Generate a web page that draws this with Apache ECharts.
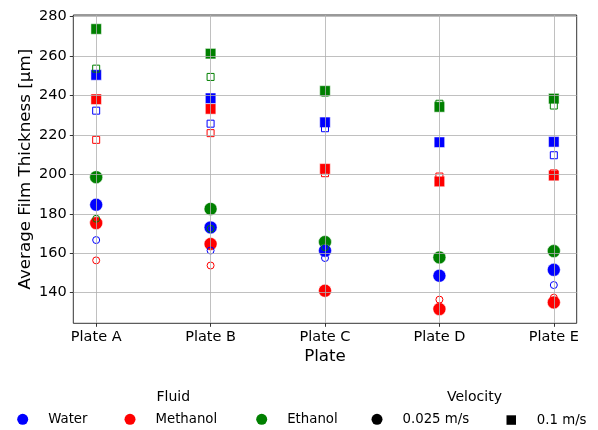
<!DOCTYPE html>
<html><head><meta charset="utf-8">
<script src="https://cdn.jsdelivr.net/npm/echarts@6/dist/echarts.min.js"></script>
<style>html,body{margin:0;padding:0;background:#fff}#c{width:598px;height:430px}</style>
</head><body><div id="c"></div><script>
const categories = ['Plate A', 'Plate B', 'Plate C', 'Plate D', 'Plate E'];
const yTicks = [140, 160, 180, 200, 220, 240, 260, 280];
const xTicks = [0, 1, 2, 3, 4];
const fluids = ['Water', 'Methanol', 'Ethanol'];
const fluidColors = ['#0000ff', '#ff0000', '#008000'];
const velocities = ['0.025 m/s', '0.1 m/s'];

// large filled markers
const waterSlow    = [184.6, 173.1, 161.3, 148.6, 151.6];
const methanolSlow = [175.3, 164.7, 141.0, 131.7, 135.1];
const ethanolSlow  = [198.6, 182.5, 165.7, 157.9, 161.1];
const waterFast    = [250.4, 238.6, 226.4, 216.3, 216.5];
const methanolFast = [238.1, 233.2, 202.8, 196.4, 199.4];
const ethanolFast  = [273.7, 261.2, 242.3, 234.2, 238.4];

// small hollow markers
const waterSlowB    = [166.7, 161.4, 157.6, 148.2, 143.9];
const methanolSlowB = [156.4, 153.8, 141.0, 136.5, 137.5];
const ethanolSlowB  = [177.5, 172.4, 163.0, 158.0, 161.0];
const waterFastB    = [232.3, 225.7, 223.4, 216.0, 209.7];
const methanolFastB = [217.5, 220.9, 200.6, 198.9, 200.5];
const ethanolFastB  = [253.6, 249.4, 241.5, 235.8, 234.9];

const FONT = 'DejaVu Sans';
function pts(vals) { return vals.map((v, i) => [i, v]); }
function filled(name, vals, color, symbol) {
  return { type: 'scatter', name: name, data: pts(vals), symbol: symbol,
    symbolSize: symbol === 'circle' ? 13 : 10.5, z: 2,
    itemStyle: { color: color, borderColor: '#ffffff', borderWidth: 0.5, opacity: 1 },
    emphasis: { disabled: true } };
}
function hollow(name, vals, color, symbol) {
  return { type: 'scatter', name: name, data: pts(vals), symbol: symbol,
    symbolSize: 7, z: 2,
    itemStyle: { color: 'rgba(0,0,0,0)', borderColor: color, borderWidth: 1, opacity: 1 },
    emphasis: { disabled: true } };
}
function legendOnly(name, color, symbol) {
  return { type: 'scatter', name: name, data: [], symbol: symbol,
    itemStyle: { color: color, opacity: 1 } };
}

const series = [
  filled('e1', ethanolFast, fluidColors[2], 'rect'),
  filled('m1', methanolFast, fluidColors[1], 'rect'),
  filled('w1', waterFast, fluidColors[0], 'rect'),
  filled('e0', ethanolSlow, fluidColors[2], 'circle'),
  filled('m0', methanolSlow, fluidColors[1], 'circle'),
  filled('w0', waterSlow, fluidColors[0], 'circle'),
  hollow('w1b', waterFastB, fluidColors[0], 'rect'),
  hollow('m1b', methanolFastB, fluidColors[1], 'rect'),
  hollow('e1b', ethanolFastB, fluidColors[2], 'rect'),
  hollow('w0b', waterSlowB, fluidColors[0], 'circle'),
  hollow('m0b', methanolSlowB, fluidColors[1], 'circle'),
  hollow('e0b', ethanolSlowB, fluidColors[2], 'circle'),
  legendOnly(fluids[0], fluidColors[0], 'circle'),
  legendOnly(fluids[1], fluidColors[1], 'circle'),
  legendOnly(fluids[2], fluidColors[2], 'circle'),
  legendOnly(velocities[0], '#000000', 'circle'),
  legendOnly(velocities[1], '#000000', 'rect')
];

function legendItem(name, icon, left, size, pad) {
  return { data: [{ name: name, icon: icon, itemStyle: { opacity: 1 } }], left: left, top: 418.3 - size / 2,
    itemWidth: size, itemHeight: size, padding: 0, selectedMode: false,
    itemStyle: { opacity: 1 },
    textStyle: { fontFamily: FONT, fontSize: 13.3, color: '#000', padding: [0, 0, 0, pad] } };
}

const option = {
  backgroundColor: '#ffffff',
  animation: false,
  grid: { left: 73.3, right: 21.3, top: 15, bottom: 106.7, show: true,
    borderColor: '#000', borderWidth: 0.8, backgroundColor: '#fff' },
  xAxis: {
    type: 'value', min: -0.2, max: 4.2, z: 3,
    name: 'Plate', nameLocation: 'middle', nameGap: 25, nameMoveOverlap: false,
    nameTextStyle: { fontFamily: FONT, fontSize: 16.7, color: '#000' },
    axisLine: { show: false, onZero: false },
    axisTick: { show: true, customValues: xTicks, length: 3.5, lineStyle: { color: '#000', width: 0.8 } },
    axisLabel: { customValues: xTicks, formatter: v => categories[Math.round(v)],
      fontFamily: FONT, fontSize: 14.5, color: '#000', margin: 6.5 },
    splitLine: { show: true, lineStyle: { color: '#b0b0b0', width: 0.8 } }
  },
  yAxis: {
    type: 'value', min: 124.5, max: 280.8, z: 3,
    name: 'Average Film Thickness [µm]', nameLocation: 'middle', nameGap: 39, nameMoveOverlap: false,
    nameTextStyle: { fontFamily: FONT, fontSize: 16.7, color: '#000' },
    axisLine: { show: false, onZero: false },
    axisTick: { show: true, customValues: yTicks, length: 3.5, lineStyle: { color: '#000', width: 0.8 } },
    axisLabel: { customValues: yTicks, fontFamily: FONT, fontSize: 14.5, color: '#000', margin: 6.5 },
    splitLine: { show: true, lineStyle: { color: '#b0b0b0', width: 0.8 } }
  },
  legend: [
    legendItem(fluids[0], 'circle', 17.2, 11, 15),
    legendItem(fluids[1], 'circle', 124.5, 11, 15),
    legendItem(fluids[2], 'circle', 256.2, 11, 15),
    legendItem(velocities[0], 'circle', 371.5, 11, 15),
    legendItem(velocities[1], 'rect', 506.5, 9.5, 15.8)
  ],
  graphic: [
    { type: 'text', left: 174.5 - 18, top: 390, style: { text: 'Fluid', fontFamily: FONT, fontSize: 14, fill: '#000' } },
    { type: 'text', left: 475 - 28, top: 390, style: { text: 'Velocity', fontFamily: FONT, fontSize: 14, fill: '#000' } }
  ],
  series: series
};
const chart = echarts.init(document.getElementById('c'), null, { renderer: 'canvas' });
chart.setOption(option);
</script></body></html>
